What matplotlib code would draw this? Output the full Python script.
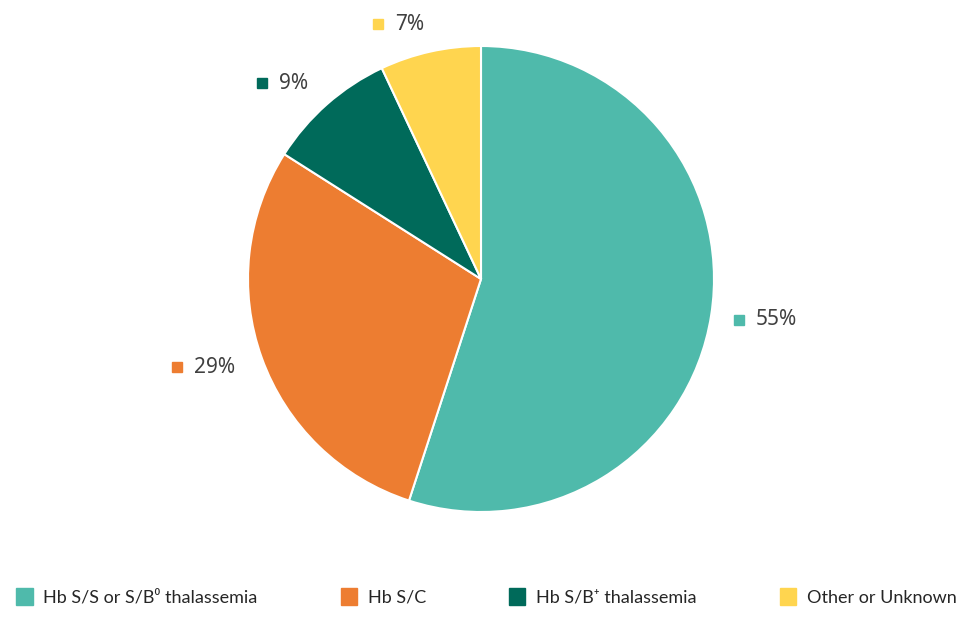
import numpy as np
import matplotlib
matplotlib.use("Agg")
from matplotlib import pyplot as plt
from matplotlib.patches import Patch

categories = ["Hb S/S or S/B\u2070 thalassemia", "Hb S/C", "Hb S/B\u207a thalassemia", "Other or Unknown"]
values = [55, 29, 9, 7]
colors = ["#4FBAAB", "#ED7D31", "#006A5A", "#FFD54F"]

W, H = 975, 625
cx, cy, R = 481, 279, 233

fig = plt.figure(figsize=(W / 100, H / 100), dpi=100)
ax = fig.add_axes([0, 0, 1, 1])

wedges, _ = ax.pie(values, colors=colors, startangle=90, counterclock=False, radius=1,
                   wedgeprops=dict(edgecolor="white", linewidth=1.5))
# pie() resets limits, so set them afterwards
ax.set_aspect("auto")
ax.set_xlim(-cx / R, (W - cx) / R)
ax.set_ylim(-(H - cy) / R, cy / R)
ax.axis("off")

px = 1.0 / R  # one pixel in data units
gap = 17 * px
lab_font = ["Noto Sans", "DejaVu Sans"]
renderer = fig.canvas.get_renderer()
for w, v, c in zip(wedges, values, colors):
    mid = np.deg2rad((w.theta1 + w.theta2) / 2)
    x, y = 1.12 * np.cos(mid), 1.12 * np.sin(mid)
    if x >= 0:
        ax.plot(x, y, marker="s", markersize=7.5, color=c, linestyle="none")
        ax.text(x + gap, y, "%d%%" % v, fontsize=15, color="#404040", family=lab_font,
                ha="left", va="center")
    else:
        t = ax.text(x, y, "%d%%" % v, fontsize=15, color="#404040", family=lab_font,
                    ha="right", va="center")
        tw = t.get_window_extent(renderer).width * px
        ax.plot(x - tw - gap, y, marker="s", markersize=7.5, color=c, linestyle="none")

handles = [Patch(facecolor=c, edgecolor=c) for c in colors]
fig.legend(handles, categories, loc="center", bbox_to_anchor=(0.499, 0.045), ncol=4,
           frameon=False, handlelength=0.9, handleheight=1.1, handletextpad=0.6,
           columnspacing=4.6, prop=dict(family=["Lato", "DejaVu Sans"], size=13),
           labelcolor="#262626")

fig.savefig("out.png", dpi=100)
